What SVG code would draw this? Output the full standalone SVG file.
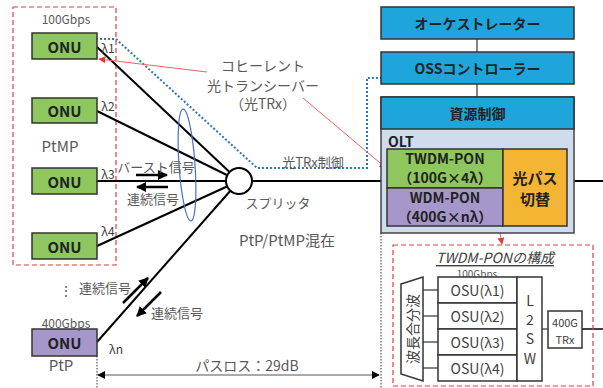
<svg xmlns="http://www.w3.org/2000/svg" width="603" height="388" viewBox="0 0 603 388">
<defs>
<style>
text{font-family:"Noto Sans CJK JP","Noto Sans",sans-serif;text-anchor:middle;dominant-baseline:central}
.lbl{fill:#595959;font-size:13px}
.onu{fill:#222;font-size:15px;font-weight:bold}
.bt{fill:#222;font-size:14px;font-weight:bold}
.sm{fill:#595959;font-size:11px}
.lam{fill:#404040;font-size:12px}
.blk{stroke:#000;stroke-width:2;fill:none}
.thin{stroke:#333;stroke-width:1.2;fill:none}
.reddash{stroke:#E8393B;stroke-width:1.2;stroke-dasharray:5 3;fill:none}
.red{stroke:#F06060;stroke-width:1;fill:none}
.bdot{stroke:#2E75B6;stroke-width:2;stroke-dasharray:2 2;fill:none}
.kdot{stroke:#333;stroke-width:1;stroke-dasharray:1.5 1.5;fill:none}
.green{fill:#8DC75E;stroke:#333;stroke-width:1.5}
.purple{fill:#A697CB;stroke:#333;stroke-width:1.5}
.blue{fill:#1EA5DC;stroke:#333;stroke-width:1.5}
.wbox{fill:#fff;stroke:#333;stroke-width:1.5}
</style>
<marker id="ar" viewBox="0 0 10 10" refX="9" refY="5" markerWidth="7" markerHeight="7" orient="auto-start-reverse"><path d="M0,0L10,5L0,10z" fill="#E8393B"/></marker>
<marker id="ak" viewBox="0 0 10 10" refX="9" refY="5" markerWidth="4" markerHeight="4" orient="auto-start-reverse"><path d="M0,0L10,5L0,10z" fill="#000"/></marker>
<marker id="ak2" viewBox="0 0 10 10" refX="9" refY="5" markerWidth="8" markerHeight="8" orient="auto-start-reverse"><path d="M0,0L10,5L0,10z" fill="#000"/></marker>
</defs>

<!-- PtMP group -->
<rect class="reddash" x="13" y="7" width="103" height="258"/>
<text class="sm" x="66" y="18" style="font-size:12px">100Gbps</text>
<text class="lbl" x="60" y="145" style="font-size:15px">PtMP</text>

<g id="connectors">
<line class="blk" x1="97" y1="47" x2="239" y2="181"/>
<line class="blk" x1="97" y1="111" x2="239" y2="181"/>
<line class="blk" x1="97" y1="181" x2="381" y2="181"/>
<line class="blk" x1="567" y1="181" x2="603" y2="181"/>
<line class="blk" x1="97" y1="246" x2="239" y2="181"/>
<line class="blk" x1="97" y1="342" x2="239" y2="181"/>
<ellipse cx="187" cy="165" rx="8" ry="56" transform="rotate(-4 187 165)" fill="none" stroke="#4472C4" stroke-width="1.2"/>
<polyline class="bdot" points="92,39 116,39 257,168 367,168 367,78 385,78"/>
<line class="red" x1="207" y1="72" x2="99" y2="59" marker-end="url(#ar)"/>
<line class="red" x1="303" y1="98" x2="386" y2="168" marker-end="url(#ar)"/>
<line class="red" x1="491" y1="182" x2="502" y2="244" marker-end="url(#ar)"/>
<line x1="136" y1="175" x2="167" y2="175" stroke="#000" stroke-width="2.5" marker-end="url(#ak)"/>
<line x1="168" y1="187" x2="137" y2="187" stroke="#000" stroke-width="2.5" marker-end="url(#ak)"/>
<line x1="123" y1="303" x2="148" y2="278" stroke="#000" stroke-width="2.5" marker-end="url(#ak)"/>
<line x1="161" y1="292" x2="137" y2="316" stroke="#000" stroke-width="2.5" marker-end="url(#ak)"/>
<line class="kdot" x1="97" y1="356" x2="97" y2="388"/>
<line class="kdot" x1="381" y1="233" x2="381" y2="388"/>
<line x1="98" y1="375" x2="379" y2="375" stroke="#555" stroke-width="1" marker-start="url(#ak2)" marker-end="url(#ak2)"/>
<line class="thin" x1="477" y1="39" x2="477" y2="52"/>
<line class="thin" x1="477" y1="84" x2="477" y2="97"/>
<line class="thin" x1="423" y1="290" x2="438" y2="290"/>
<line class="thin" x1="423" y1="316" x2="438" y2="316"/>
<line class="thin" x1="423" y1="342" x2="438" y2="342"/>
<line class="thin" x1="423" y1="368" x2="438" y2="368"/>
<line class="thin" x1="542" y1="329" x2="548" y2="329"/>
<line x1="582" y1="329" x2="603" y2="329" stroke="#000" stroke-width="1.5"/>
</g>

<g id="onu1"><rect class="green" x="32" y="33" width="65" height="26"/><text class="onu" x="64.5" y="46">ONU</text></g>
<g id="onu2"><rect class="green" x="32" y="98" width="65" height="25"/><text class="onu" x="64.5" y="110.5">ONU</text></g>
<g id="onu3"><rect class="green" x="32" y="168" width="65" height="26"/><text class="onu" x="64.5" y="181">ONU</text></g>
<g id="onu4"><rect class="green" x="32" y="233" width="65" height="26"/><text class="onu" x="64.5" y="246">ONU</text></g>
<g id="onu-ptp"><rect class="purple" x="32" y="329" width="65" height="27"/><text class="onu" x="64.5" y="342.5">ONU</text></g>

<text class="lam" x="108" y="47">λ1</text>
<text class="lam" x="108" y="105">λ2</text>
<text class="lam" x="108" y="173">λ3</text>
<text class="lam" x="108" y="230">λ4</text>
<text class="lam" x="116" y="348">λn</text>
<text class="sm" x="66" y="322" style="font-size:12px">400Gbps</text>
<text class="lbl" x="61" y="364" style="font-size:15px">PtP</text>
<text class="lbl" x="66" y="290" style="font-size:14px">⋮</text>

<g id="splitter"><circle cx="239" cy="181" r="13" fill="#fff" stroke="#000" stroke-width="2"/></g>

<text class="lbl" x="263" y="65" style="font-size:14px">コヒーレント</text>
<text class="lbl" x="263" y="85" style="font-size:14px">光トランシーバー</text>
<text class="lbl" x="263" y="103" style="font-size:14px">（光TRx）</text>
<text class="lbl" x="313" y="161">光TRx制御</text>
<text class="lbl" x="278" y="202">スプリッタ</text>
<text class="lbl" x="287" y="239" style="font-size:15px">PtP/PtMP混在</text>
<text class="lbl" x="156" y="166">バースト信号</text>
<text class="lbl" x="153" y="198">連続信号</text>
<text class="lbl" x="105" y="287">連続信号</text>
<text class="lbl" x="177" y="312">連続信号</text>
<text class="lbl" x="247" y="365" style="font-size:14px">パスロス：29dB</text>

<g id="orchestrator"><rect class="blue" x="381" y="7" width="193" height="32"/><text class="bt" x="477.5" y="23">オーケストレーター</text></g>
<g id="oss"><rect class="blue" x="381" y="52" width="193" height="32"/><text class="bt" x="477.5" y="68">OSSコントローラー</text></g>
<g id="olt">
<rect x="381" y="97" width="193" height="136" fill="#CFDCEC" stroke="#444" stroke-width="1.5"/>
<rect class="blue" x="381" y="97" width="193" height="32"/><text class="bt" x="477.5" y="113">資源制御</text>
<text class="bt" x="388" y="141" style="text-anchor:start">OLT</text>
<rect class="green" x="387" y="149" width="116" height="39"/>
<text class="bt" x="445" y="158">TWDM-PON</text><text class="bt" x="445" y="177">（100G×4λ）</text>
<rect class="purple" x="387" y="188" width="116" height="38"/>
<text class="bt" x="445" y="197">WDM-PON</text><text class="bt" x="445" y="216">（400G×nλ）</text>
<rect x="503" y="149" width="64" height="77" fill="#F4B535" stroke="#333" stroke-width="1.5"/>
<text class="bt" x="535" y="177" style="font-size:15px">光パス</text><text class="bt" x="535" y="198" style="font-size:15px">切替</text>
</g>

<g id="twdm-config">
<rect class="reddash" x="393" y="245" width="200" height="141"/>
<text x="495" y="257" style="fill:#404040;font-size:14px;font-style:italic;text-decoration:underline">TWDM-PONの構成</text>
<text class="sm" x="477" y="273" style="font-size:10px">100Gbps</text>
<polygon points="401,284 423,277 423,381 401,374" fill="#fff" stroke="#333" stroke-width="1.5"/>
<text x="412" y="329" transform="rotate(-90 412 329)" style="fill:#404040;font-size:14px">波長合分波</text>
<rect class="wbox" x="438" y="277" width="79" height="26"/><text x="477.5" y="290" style="fill:#404040;font-size:14px">OSU(λ1)</text>
<rect class="wbox" x="438" y="303" width="79" height="26"/><text x="477.5" y="316" style="fill:#404040;font-size:14px">OSU(λ2)</text>
<rect class="wbox" x="438" y="329" width="79" height="26"/><text x="477.5" y="342" style="fill:#404040;font-size:14px">OSU(λ3)</text>
<rect class="wbox" x="438" y="355" width="79" height="26"/><text x="477.5" y="368" style="fill:#404040;font-size:14px">OSU(λ4)</text>
<rect class="wbox" x="517" y="277" width="25" height="104"/>
<text x="530" y="300" style="fill:#404040;font-size:14px">L</text>
<text x="530" y="319" style="fill:#404040;font-size:14px">2</text>
<text x="530" y="338" style="fill:#404040;font-size:14px">S</text>
<text x="530" y="358" style="fill:#404040;font-size:14px">W</text>
<rect class="wbox" x="548" y="311" width="34" height="37"/>
<text x="565" y="322" style="fill:#404040;font-size:11px">400G</text>
<text x="565" y="339" style="fill:#404040;font-size:11px">TRx</text>
</g>
</svg>
